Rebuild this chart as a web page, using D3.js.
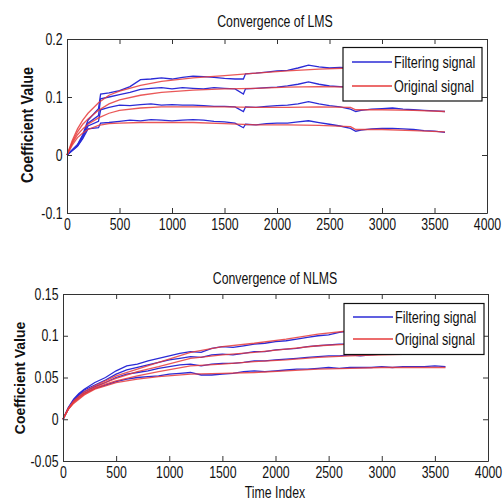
<!DOCTYPE html>
<html>
<head>
<meta charset="utf-8">
<script src="https://cdn.jsdelivr.net/npm/d3@7"></script>
<style>
  html, body { margin: 0; padding: 0; background: #fff; }
  svg { display: block; }
  text { font-family: "Liberation Sans", Arial, sans-serif; fill: #111; }
</style>
</head>
<body>
<svg id="chart" width="503" height="500"></svg>
<script>
// ---- Axis ticks ----
const xTicks = [0, 500, 1000, 1500, 2000, 2500, 3000, 3500, 4000];
const yTicksLMS = [-0.1, 0, 0.1, 0.2];
const yTicksNLMS = [-0.05, 0, 0.05, 0.1, 0.15];

// ---- LMS: true coefficients (Original signal) ----
const lmsTrueTime = [0, 50, 100, 150, 200, 300, 400, 500, 700, 900, 1200, 1500, 1800, 2100, 2400, 2700, 2750, 3000, 3300, 3600];
const lmsTrueA = [0, .025, .045, .060, .072, .090, .103, .110, .120, .127, .133, .137, .141, .145, .148, .150, .150, .150, .151, .151];
const lmsTrueB = [0, .022, .040, .053, .062, .077, .088, .095, .103, .108, .112, .114, .115, .117, .118, .117, .117, .116, .115, .115];
const lmsTrueC = [0, .020, .035, .045, .053, .064, .072, .077, .081, .083, .083, .083, .082, .082, .083, .082, .078, .078, .077, .075];
const lmsTrueD = [0, .017, .030, .038, .044, .051, .054, .055, .056, .056, .056, .054, .052, .052, .051, .049, .044, .044, .042, .040];

// ---- LMS: adaptive filter estimates (Filtering signal) ----
const lmsEstTime = [0, 100, 150, 200, 300, 320, 400, 500, 600, 700, 800, 900, 1000, 1100, 1200, 1300, 1400, 1500, 1600, 1680, 1700, 1800, 1900, 2000, 2100, 2200, 2300, 2400, 2500, 2600, 2700, 2750, 2800, 2900, 3000, 3100, 3200, 3300, 3400, 3500, 3600];
const lmsEstA = [0, .018, .035, .060, .080, .105, .107, .111, .118, .130, .131, .133, .131, .134, .136, .135, .134, .132, .131, .131, .140, .141, .143, .145, .146, .150, .155, .152, .150, .151, .150, .150, .151, .150, .149, .150, .151, .150, .150, .151, .150];
const lmsEstB = [0, .017, .033, .055, .068, .097, .100, .104, .108, .113, .115, .116, .114, .116, .115, .114, .116, .115, .114, .105, .114, .115, .116, .117, .119, .122, .126, .122, .119, .118, .117, .116, .116, .117, .116, .116, .115, .116, .115, .115, .115];
const lmsEstC = [0, .016, .030, .050, .058, .078, .082, .086, .085, .087, .088, .086, .087, .086, .086, .085, .084, .084, .083, .075, .083, .082, .084, .085, .086, .088, .092, .088, .085, .083, .079, .075, .077, .079, .080, .081, .079, .078, .077, .076, .075];
const lmsEstD = [0, .015, .028, .045, .047, .055, .056, .058, .060, .059, .061, .060, .059, .060, .061, .060, .058, .057, .055, .047, .053, .052, .054, .055, .055, .057, .059, .056, .053, .050, .046, .041, .043, .045, .046, .046, .045, .044, .042, .041, .039];

// ---- NLMS: true coefficients ----
const nlmsTrueTime = [0, 50, 100, 200, 300, 400, 500, 700, 900, 1200, 1500, 1800, 2100, 2400, 2700, 3000, 3300, 3600];
const nlmsTrueA = [0, .013, .022, .033, .040, .046, .052, .060, .068, .080, .087, .091, .096, .102, .106, .108, .110, .112];
const nlmsTrueB = [0, .013, .021, .031, .038, .044, .049, .057, .063, .073, .077, .080, .084, .088, .090, .091, .092, .093];
const nlmsTrueC = [0, .012, .020, .030, .037, .042, .046, .052, .057, .064, .066, .069, .071, .074, .076, .077, .078, .079];
const nlmsTrueD = [0, .012, .019, .029, .036, .040, .044, .048, .051, .054, .055, .056, .058, .060, .061, .062, .062, .062];

// ---- NLMS: adaptive filter estimates ----
const nlmsEstTime = [0, 50, 100, 150, 200, 300, 400, 500, 600, 700, 800, 900, 1000, 1100, 1200, 1300, 1400, 1500, 1600, 1700, 1800, 1900, 2000, 2100, 2200, 2300, 2400, 2500, 2600, 2700, 2800, 2900, 3000, 3100, 3200, 3300, 3400, 3500, 3600];
const nlmsEstA = [0, .014, .024, .031, .036, .044, .050, .058, .064, .066, .070, .073, .076, .079, .081, .080, .085, .087, .086, .088, .090, .091, .093, .094, .096, .098, .100, .101, .104, .106, .107, .108, .109, .110, .110, .111, .112, .112, .113];
const nlmsEstB = [0, .013, .023, .030, .035, .041, .047, .054, .059, .062, .065, .068, .071, .073, .075, .074, .077, .078, .077, .079, .081, .081, .083, .084, .085, .087, .088, .089, .090, .090, .091, .091, .092, .092, .093, .093, .094, .094, .094];
const nlmsEstC = [0, .013, .022, .029, .033, .039, .044, .050, .054, .056, .058, .061, .063, .065, .066, .064, .066, .067, .067, .068, .070, .070, .071, .072, .073, .074, .075, .076, .076, .077, .076, .077, .078, .078, .079, .079, .080, .080, .081];
const nlmsEstD = [0, .012, .021, .027, .031, .037, .041, .045, .048, .050, .051, .052, .054, .055, .056, .053, .053, .054, .055, .057, .058, .057, .058, .059, .060, .060, .061, .062, .061, .062, .062, .062, .063, .062, .063, .063, .063, .064, .063];

const legendLabels = ["Filtering signal", "Original signal"];
const estColor = "#2b2bd6";
const trueColor = "#e63b3b";

// narrow, tall lettering throughout
const FONT = 16;
const SX = 0.77;

const svg = d3.select("#chart");

function zip(ts, vs) { return ts.map((t, i) => ({ t, v: vs[i] })); }

function label(parent, x, y, str, opts = {}) {
  const sx = opts.sx || SX;
  const rot = opts.rotate ? ` rotate(${opts.rotate})` : "";
  return parent.append("text")
    .attr("transform", `translate(${x},${y})${rot} scale(${sx},1)`)
    .attr("text-anchor", opts.anchor || "middle")
    .attr("dy", "0.35em")
    .attr("font-size", opts.size || FONT)
    .attr("font-weight", opts.weight || "normal")
    .text(str);
}

function panel(cfg) {
  const x = d3.scaleLinear().domain([0, 4000]).range([cfg.left, cfg.right]);
  const y = d3.scaleLinear().domain(cfg.yDomain).range([cfg.bottom, cfg.top]);
  const g = svg.append("g");
  const fmt = d => String(d);

  // curves: estimates underneath, true coefficients on top
  const line = d3.line().x(d => x(d.t)).y(d => y(d.v));
  cfg.est.forEach(vs => {
    g.append("path").datum(zip(cfg.estTime, vs))
      .attr("fill", "none").attr("stroke", estColor)
      .attr("stroke-width", 1.3).attr("d", line);
  });
  cfg.tru.forEach(vs => {
    g.append("path").datum(zip(cfg.trueTime, vs))
      .attr("fill", "none").attr("stroke", trueColor)
      .attr("stroke-opacity", 0.85)
      .attr("stroke-width", 1.3).attr("d", line);
  });

  // axes with inward ticks on all four sides
  const styleAxis = sel => {
    sel.select(".domain").attr("stroke", "#333").attr("stroke-width", 1);
    sel.selectAll(".tick line").attr("stroke", "#333");
  };
  const bottomAx = g.append("g").attr("transform", `translate(0,${cfg.bottom})`)
    .call(d3.axisBottom(x).tickValues(xTicks).tickFormat(fmt).tickSizeInner(-5).tickSizeOuter(0).tickPadding(6));
  const leftAx = g.append("g").attr("transform", `translate(${cfg.left},0)`)
    .call(d3.axisLeft(y).tickValues(cfg.yTicks).tickFormat(fmt).tickSizeInner(-5).tickSizeOuter(0));
  const topAx = g.append("g").attr("transform", `translate(0,${cfg.top})`)
    .call(d3.axisTop(x).tickValues(xTicks).tickFormat("").tickSizeInner(-5).tickSizeOuter(0));
  const rightAx = g.append("g").attr("transform", `translate(${cfg.right},0)`)
    .call(d3.axisRight(y).tickValues(cfg.yTicks).tickFormat("").tickSizeInner(-5).tickSizeOuter(0));
  [bottomAx, leftAx, topAx, rightAx].forEach(styleAxis);
  [bottomAx, leftAx].forEach(a => a.selectAll("text")
    .style("font-family", '"Liberation Sans", Arial, sans-serif')
    .style("font-size", FONT + "px").attr("fill", "#111")
    .attr("transform", `scale(${SX},1)`));
  leftAx.selectAll("text").attr("x", -4.5 / SX);

  // title
  label(g, cfg.titleX, cfg.titleY, cfg.title);

  // y-axis label
  label(g, cfg.ylabX, cfg.ylabY, "Coefficient Value",
    { rotate: -90, sx: 0.9, size: cfg.ylabSize, weight: "bold" }).attr("fill", "#222");

  // legend
  const L = cfg.legend;
  g.append("rect").attr("x", L.x0).attr("y", L.y0)
    .attr("width", L.x1 - L.x0).attr("height", L.y1 - L.y0)
    .attr("fill", "#fff").attr("stroke", "#111").attr("stroke-width", 1.2);
  [estColor, trueColor].forEach((c, i) => {
    const ly = L.rows[i];
    g.append("line").attr("x1", L.x0 + 9).attr("x2", L.x0 + 49)
      .attr("y1", ly).attr("y2", ly).attr("stroke", c).attr("stroke-width", 1.4);
    label(g, L.x0 + 51, ly, legendLabels[i], { anchor: "start", sx: 0.79 });
  });
  return { x, y };
}

panel({
  left: 67, right: 487, top: 39, bottom: 213,
  yDomain: [-0.1, 0.2], yTicks: yTicksLMS,
  estTime: lmsEstTime, est: [lmsEstA, lmsEstB, lmsEstC, lmsEstD],
  trueTime: lmsTrueTime, tru: [lmsTrueA, lmsTrueB, lmsTrueC, lmsTrueD],
  title: "Convergence of LMS", titleX: 275, titleY: 21,
  ylabX: 27, ylabY: 125, ylabSize: 16,
  legend: { x0: 343, x1: 482, y0: 47.5, y1: 101, rows: [62, 86] }
});

panel({
  left: 63, right: 488, top: 294, bottom: 461,
  yDomain: [-0.05, 0.15], yTicks: yTicksNLMS,
  estTime: nlmsEstTime, est: [nlmsEstA, nlmsEstB, nlmsEstC, nlmsEstD],
  trueTime: nlmsTrueTime, tru: [nlmsTrueA, nlmsTrueB, nlmsTrueC, nlmsTrueD],
  title: "Convergence of NLMS", titleX: 275, titleY: 278,
  ylabX: 20, ylabY: 378, ylabSize: 15.5,
  legend: { x0: 344, x1: 484, y0: 303.5, y1: 354.5, rows: [317, 339] }
});

// shared x-axis label under the lower panel
label(svg, 275, 492, "Time Index");
</script>
</body>
</html>
